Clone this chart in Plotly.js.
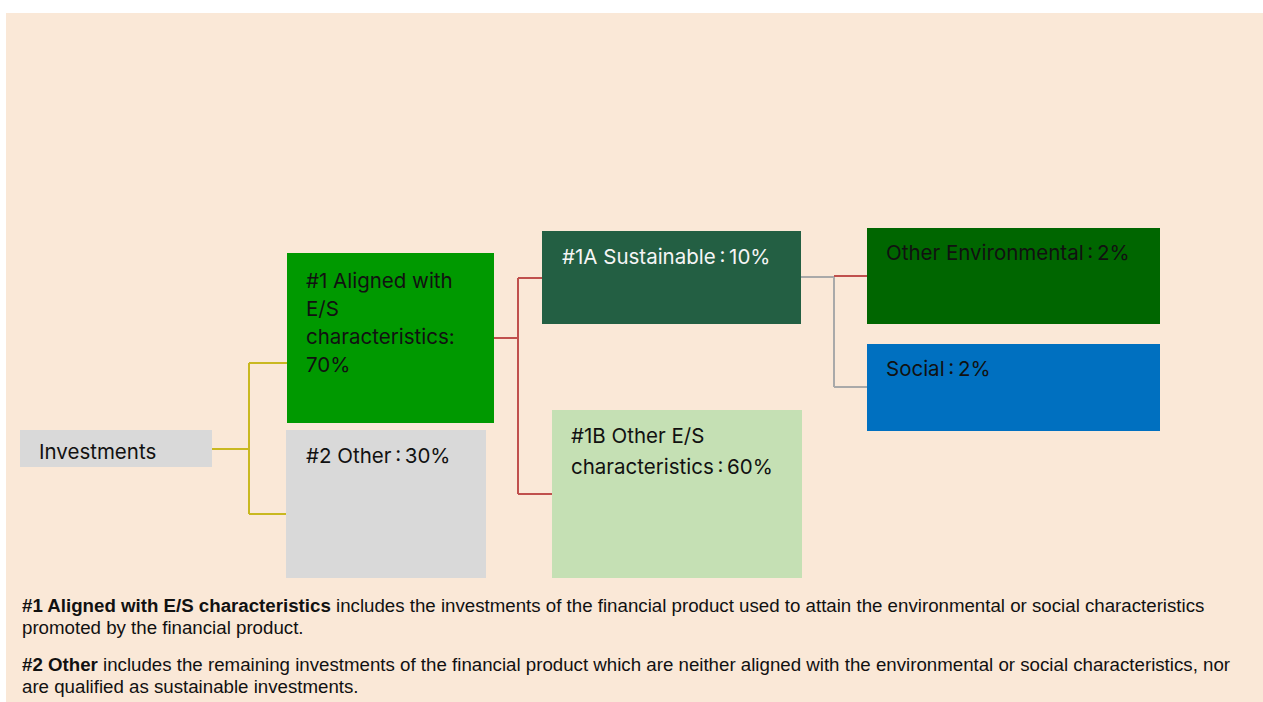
<!DOCTYPE html>
<html>
<head>
<meta charset="utf-8">
<script src="https://cdn.plot.ly/plotly-3.0.1.min.js"></script>
<style>html,body{margin:0;padding:0;background:#fff;}#chart{width:1263px;height:702px;}</style>
</head>
<body>
<div id="chart"></div>
<script>
// ---- data ----
const categories = ['Investments', '#1 Aligned with<br>E/S<br>characteristics:', '#2 Other\u2009:', '#1A Sustainable\u2009:', '#1B Other E/S<br>characteristics\u2009:', 'Other Environmental\u2009:', 'Social\u2009:'];
const shares = [null, 70, 30, 10, 60, 2, 2];
const footnoteTerms = ['#1 Aligned with E/S characteristics', '#2 Other'];
const footnoteLines = [
  [' includes the investments of the financial product used to attain the environmental or social characteristics', 'promoted by the financial product.'],
  [' includes the remaining investments of the financial product which are neither aligned with the environmental or social characteristics, nor', 'are qualified as sustainable investments.']
];

// ---- layout geometry (pixels) ----
const boxes = [
  {x0: 20,  x1: 212,  y0: 430, y1: 467, fill: '#d9d9d9', font: '#111111', tx: 37,  ty: 451, ls: 28},
  {x0: 287, x1: 494,  y0: 253, y1: 423, fill: '#009900', font: '#111111', tx: 304, ty: 280, ls: 28},
  {x0: 286, x1: 486,  y0: 430, y1: 578, fill: '#d9d9d9', font: '#111111', tx: 304, ty: 455, ls: 28},
  {x0: 542, x1: 801,  y0: 231, y1: 324, fill: '#235f43', font: '#f5f5f5', tx: 560, ty: 256, ls: 28},
  {x0: 552, x1: 802,  y0: 410, y1: 578, fill: '#c5e0b4', font: '#111111', tx: 569, ty: 435, ls: 31},
  {x0: 867, x1: 1160, y0: 228, y1: 324, fill: '#006600', font: '#111111', tx: 884, ty: 252, ls: 28},
  {x0: 867, x1: 1160, y0: 344, y1: 431, fill: '#0070c0', font: '#111111', tx: 884, ty: 368, ls: 28}
];
const connectors = [
  {from: 0, trunk: 249, y: 449, kids: [{to: 1, y: 363}, {to: 2, y: 514}], color: '#c9b820'},
  {from: 1, trunk: 518, y: 338, kids: [{to: 3, y: 278}, {to: 4, y: 494}], color: '#c0504d'},
  {from: 3, trunk: 834, y: 277, kids: [{to: 5, y: 276}, {to: 6, y: 387}], color: '#a9a9a9'}
];
const footY = [[605, 627], [664, 686]];

const shapes = [];
const annotations = [];
shapes.push({type: 'rect', xref: 'x', yref: 'y', x0: 6, x1: 1263, y0: 13, y1: 702, fillcolor: '#fae8d7', line: {width: 0}, layer: 'below'});

connectors.forEach(c => {
  const p = boxes[c.from];
  const ys = c.kids.map(k => k.y).concat([c.y]);
  shapes.push({type: 'line', xref: 'x', yref: 'y', x0: p.x1, x1: c.trunk, y0: c.y, y1: c.y, line: {color: c.color, width: 2}});
  shapes.push({type: 'line', xref: 'x', yref: 'y', x0: c.trunk, x1: c.trunk, y0: Math.min(...ys), y1: Math.max(...ys), line: {color: c.color, width: 2}});
  c.kids.forEach((k, i) => {
    const col = (c.from === 3 && i === 0) ? '#c0504d' : c.color;
    shapes.push({type: 'line', xref: 'x', yref: 'y', x0: c.trunk, x1: boxes[k.to].x0, y0: k.y, y1: k.y, line: {color: col, width: 2}});
  });
});

categories.forEach((cat, i) => {
  const b = boxes[i];
  shapes.push({type: 'rect', xref: 'x', yref: 'y', x0: b.x0, x1: b.x1, y0: b.y0, y1: b.y1, fillcolor: b.fill, line: {width: 0}});
  let txt;
  if (shares[i] === null) txt = cat;
  else if (i === 1) txt = cat + '<br>' + shares[i] + '%';
  else txt = cat + '\u2009' + shares[i] + '%';
  txt.split('<br>').forEach((ln, j) => {
    annotations.push({
      xref: 'x', yref: 'y', x: b.tx, y: b.ty + j * b.ls, xanchor: 'left', yanchor: 'middle', align: 'left',
      text: ln, showarrow: false,
      font: {family: 'Inter, Noto Sans, sans-serif', size: 20.5, color: b.font}
    });
  });
});

footnoteTerms.forEach((t, i) => {
  footnoteLines[i].forEach((ln, j) => {
    annotations.push({
      xref: 'x', yref: 'y', x: 20, y: footY[i][j], xanchor: 'left', yanchor: 'middle', align: 'left',
      text: (j === 0 ? '<b>' + t + '</b>' : '') + ln, showarrow: false,
      font: {family: 'Liberation Sans, Arial, sans-serif', size: 18.7, color: '#111111'}
    });
  });
});

const layout = {
  width: 1263, height: 702,
  margin: {l: 0, r: 0, t: 0, b: 0},
  paper_bgcolor: '#ffffff', plot_bgcolor: 'rgba(0,0,0,0)',
  xaxis: {range: [0, 1263], visible: false, fixedrange: true},
  yaxis: {range: [702, 0], visible: false, fixedrange: true},
  shapes: shapes, annotations: annotations, showlegend: false
};
Plotly.newPlot('chart', [], layout, {displayModeBar: false, staticPlot: true});
</script>
</body>
</html>
